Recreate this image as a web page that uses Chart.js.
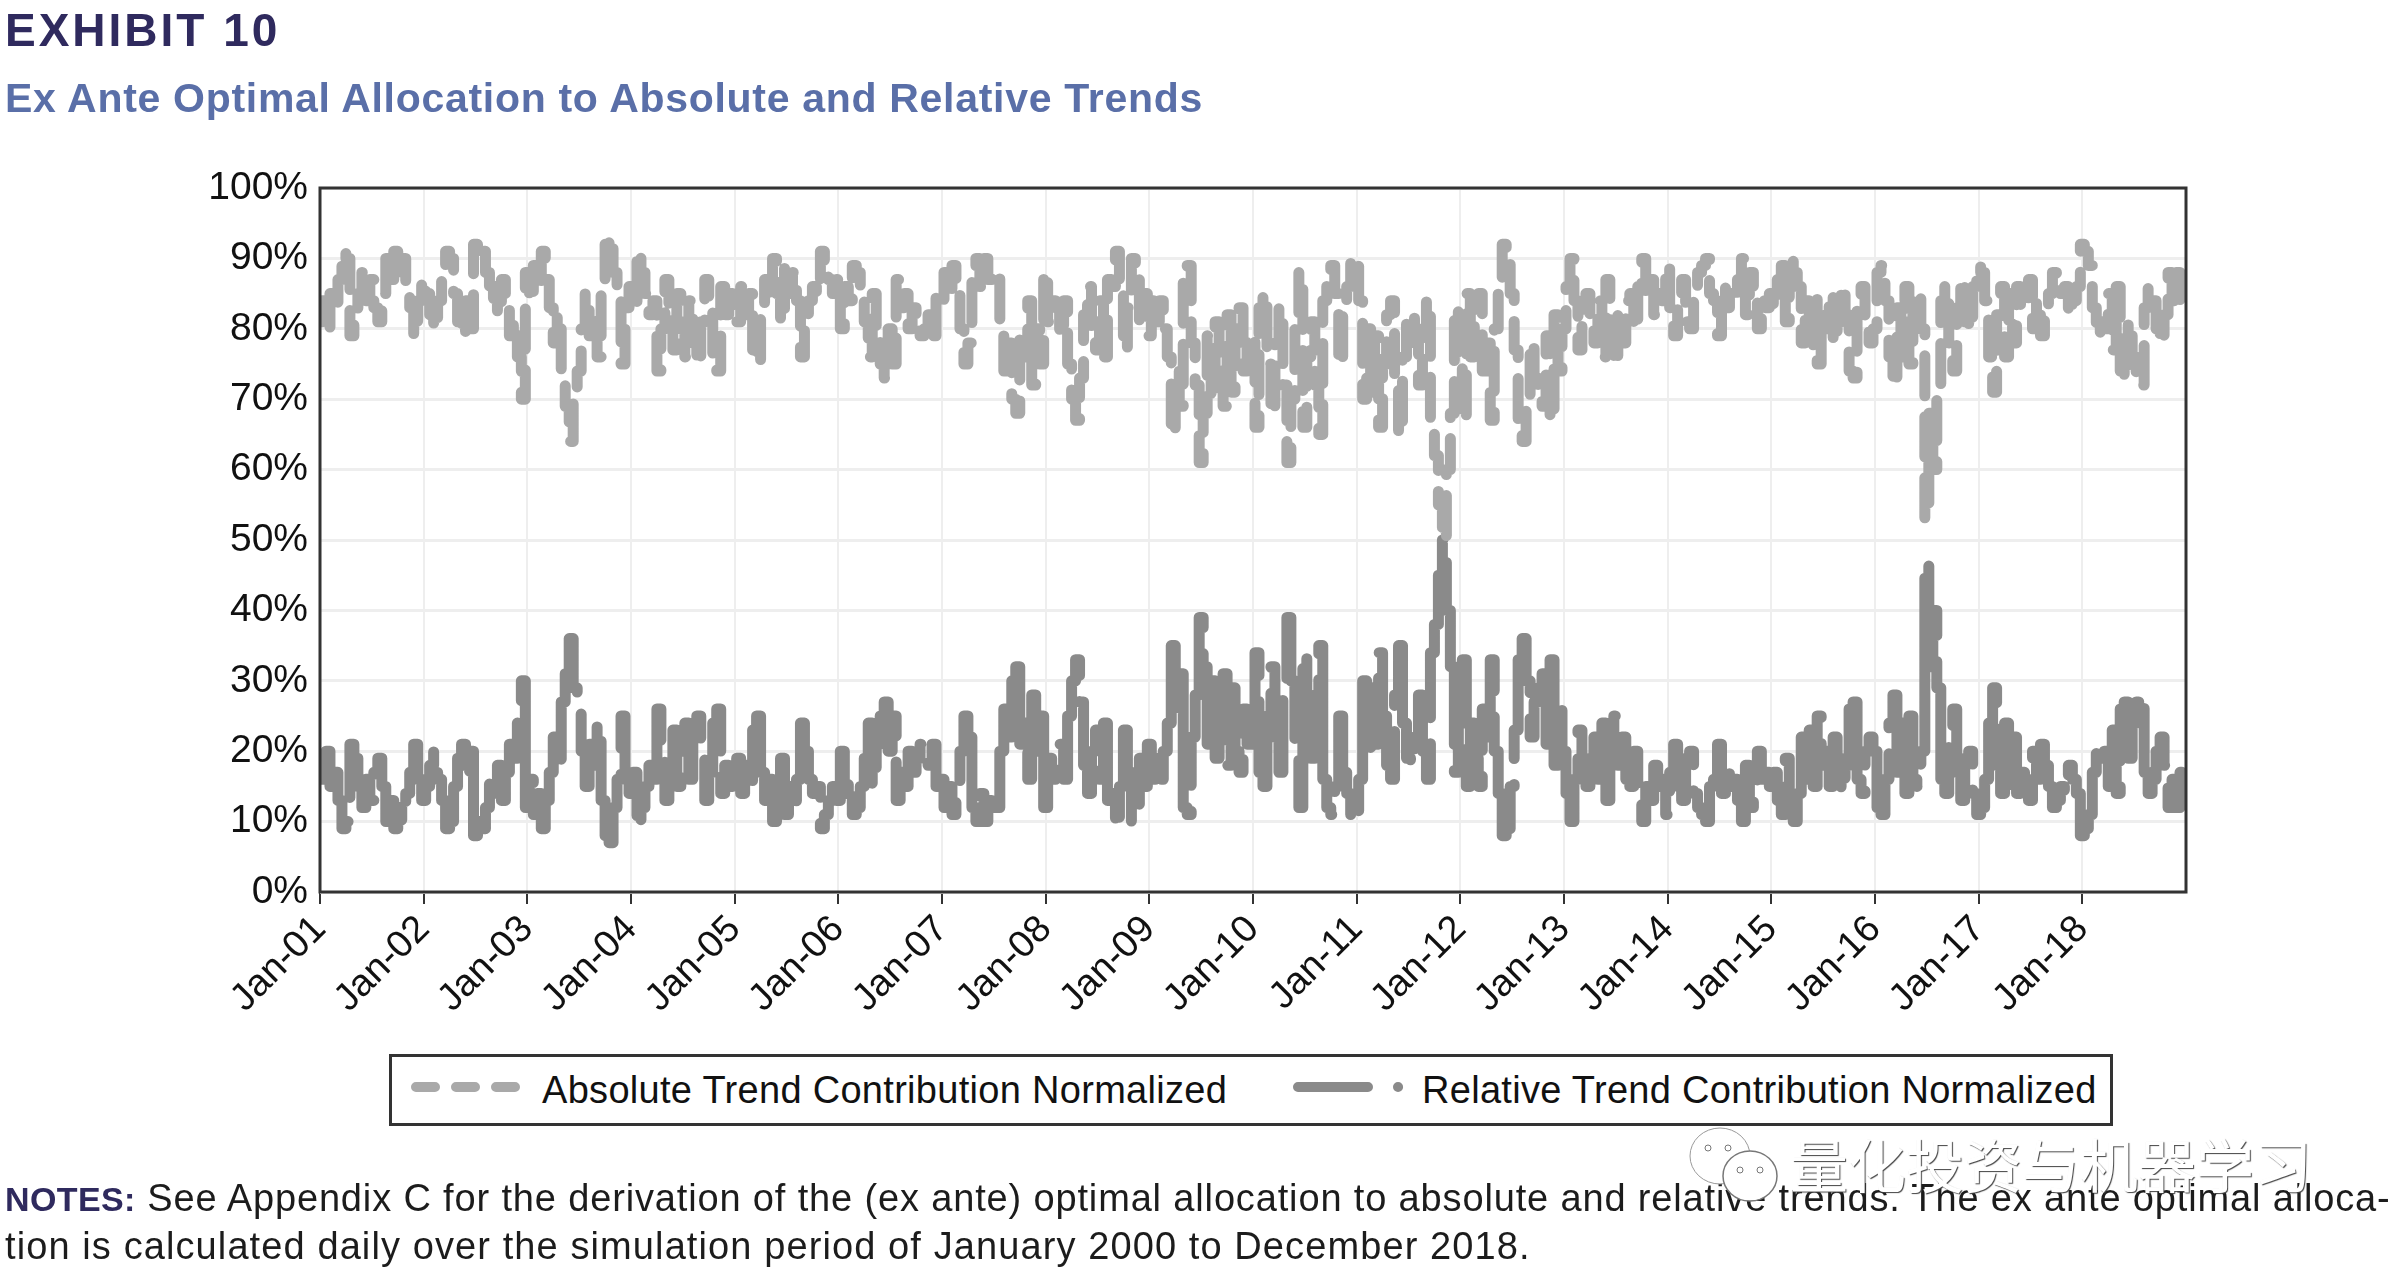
<!DOCTYPE html>
<html>
<head>
<meta charset="utf-8">
<title>Exhibit 10</title>
<script src="https://cdn.jsdelivr.net/npm/chart.js@4"></script>
<style>
  html, body { margin: 0; padding: 0; background: #fff; }
  body { position: relative; width: 2394px; height: 1268px; overflow: hidden; font-family: "Liberation Sans", sans-serif; }
  #chart { position: absolute; left: 0; top: 0; }
  .line { position: absolute; left: 5px; white-space: nowrap; }
  #exhibit { top: 0; font-size: 46px; line-height: 60px; font-weight: bold; color: #2f2a5e; letter-spacing: 3px; }
  #title { top: 68px; font-size: 41px; line-height: 60px; font-weight: bold; color: #5a6fa8; letter-spacing: 0.7px; }
  .note { font-size: 38px; line-height: 48px; color: #1c1c1c; letter-spacing: 0.85px; }
  #note1 { top: 1174px; }
  #note2 { top: 1222px; letter-spacing: 1.1px; }
  .note b { color: #2f2a5e; font-size: 34px; letter-spacing: 0.4px; }
  #legend { position: absolute; left: 389px; top: 1054px; width: 1718px; height: 66px; border: 3px solid #333; background: #fff; font-size: 38px; letter-spacing: 0.3px; color: #111; }
  #legend svg { position: absolute; top: 8px; }
  #legend span { position: absolute; top: 8px; line-height: 50px; white-space: nowrap; }
  #mark { position: absolute; left: 1790px; top: 1128px; font: 58px/70px "Noto Sans CJK SC"; color: #fff; text-shadow: 1px 1px 1px #444; white-space: nowrap; }
  #wechat { position: absolute; left: 1686px; top: 1124px; }
</style>
</head>
<body>
<canvas id="chart" width="2394" height="1268"></canvas>
<div class="line" id="exhibit">EXHIBIT 10</div>
<div class="line" id="title">Ex Ante Optimal Allocation to Absolute and Relative Trends</div>
<div id="legend"></div>
<div class="line note" id="note1"><b>NOTES:</b> See Appendix C for the derivation of the (ex ante) optimal allocation to absolute and relative trends. The ex ante optimal alloca-</div>
<div class="line note" id="note2">tion is calculated daily over the simulation period of January 2000 to December 2018.</div>
<svg id="wechat" width="100" height="84" viewBox="0 0 100 84">
  <ellipse cx="34" cy="32" rx="30" ry="28" fill="#fff" stroke="#999" stroke-width="1"/>
  <ellipse cx="64" cy="52" rx="27" ry="25" fill="#fff" stroke="#777" stroke-width="1.5"/>
  <circle cx="22" cy="24" r="3" fill="#fff" stroke="#777"/>
  <circle cx="42" cy="24" r="3" fill="#fff" stroke="#777"/>
  <circle cx="54" cy="46" r="3" fill="#fff" stroke="#777"/>
  <circle cx="74" cy="46" r="3" fill="#fff" stroke="#777"/>
</svg>
<div id="mark">量化投资与机器学习</div>

<script>
const tickLabels = ["Jan-01", "Jan-02", "Jan-03", "Jan-04", "Jan-05", "Jan-06", "Jan-07", "Jan-08", "Jan-09",
  "Jan-10", "Jan-11", "Jan-12", "Jan-13", "Jan-14", "Jan-15", "Jan-16", "Jan-17", "Jan-18"];
const pointsPerYear = 26;

const absoluteLabel = "Absolute Trend Contribution Normalized";
const relativeLabel = "Relative Trend Contribution Normalized";

const absoluteTrend = [
  81,84,80,85,83,87,91,90,79,81,85,88,84,87,83,81,85,90,87,91,88,90,86,83,79,84,
  87,85,82,80,84,87,91,90,85,81,79,84,80,92,90,91,88,84,86,82,87,83,79,81,76,70,
  88,84,89,86,91,87,83,78,82,73,69,64,71,74,80,85,79,82,76,87,92,93,88,84,75,83,
  86,83,91,88,85,82,84,74,80,87,82,77,85,80,76,84,78,75,81,87,83,76,74,86,82,85,
  83,81,86,82,85,77,75,83,87,84,90,85,81,89,85,88,84,76,80,84,86,85,91,89,87,85,
  87,80,86,84,89,88,85,81,76,85,79,75,73,80,75,87,83,85,80,83,81,79,80,82,79,85,
  84,88,85,89,86,80,75,78,88,90,86,90,87,88,88,80,74,78,70,68,79,76,84,72,80,75,
  88,81,84,83,79,84,75,70,67,73,82,86,80,77,84,76,87,86,91,85,77,83,90,89,81,85,
  79,84,81,84,80,76,65,74,69,88,89,78,72,61,68,79,70,81,74,69,82,71,80,83,74,79,
  79,66,83,85,75,68,78,83,72,61,70,80,88,66,76,81,72,65,84,88,89,85,75,83,86,90,
  90,84,70,80,71,79,66,75,82,84,72,65,76,81,82,78,72,80,84,66,62,55,50,60,68,83,
  76,67,85,76,81,85,74,78,67,80,86,92,91,85,77,67,64,70,78,73,71,69,79,67,82,74,
  80,86,90,84,77,82,85,81,78,84,76,87,80,75,82,78,84,85,80,86,90,85,87,82,85,84,
  89,83,79,85,87,81,80,86,88,89,90,85,84,79,86,83,85,84,87,90,82,88,85,80,84,83,
  85,83,87,89,81,88,90,86,78,84,77,85,75,82,80,85,78,81,86,82,74,73,84,86,80,78,
  80,88,89,84,76,72,83,76,86,75,84,85,80,53,68,60,71,84,86,78,74,83,87,81,80,86,
  89,88,84,76,71,82,86,76,85,78,86,83,84,87,80,84,79,82,85,88,87,85,86,82,84,86,
  92,91,89,83,79,81,80,85,77,86,74,73,81,76,73,72,83,86,84,80,78,82,88,84,88,83
];

const relativeTrend = [
  19,16,20,15,17,13,9,10,21,19,15,12,16,13,17,19,15,10,13,9,12,10,14,17,21,16,
  13,15,18,20,16,13,9,10,15,19,21,16,20,8,10,9,12,16,14,18,13,17,21,19,24,30,
  12,16,11,14,9,13,17,22,18,27,31,36,29,26,20,15,21,18,24,13,8,7,12,16,25,17,
  14,17,9,12,15,18,16,26,20,13,18,23,15,20,24,16,22,25,19,13,17,24,26,14,18,15,
  17,19,14,18,15,23,25,17,13,16,10,15,19,11,15,12,16,24,20,16,14,15,9,11,13,15,
  13,20,14,16,11,12,15,19,24,15,21,25,27,20,25,13,17,15,20,17,19,21,20,18,21,15,
  16,12,15,11,14,20,25,22,12,10,14,10,13,12,12,20,26,22,30,32,21,24,16,28,20,25,
  12,19,16,17,21,16,25,30,33,27,18,14,20,23,16,24,13,14,9,15,23,17,10,11,19,15,
  21,16,19,16,20,24,35,26,31,12,11,22,28,39,32,21,30,19,26,31,18,29,20,17,26,21,
  21,34,17,15,25,32,22,17,28,39,30,20,12,34,24,19,28,35,16,12,11,15,25,17,14,10,
  10,16,30,20,29,21,34,25,18,16,28,35,24,19,18,22,28,20,16,34,38,45,50,40,32,17,
  24,33,15,24,19,15,26,22,33,20,14,8,9,15,23,33,36,30,22,27,29,31,21,33,18,26,
  20,14,10,16,23,18,15,19,22,16,24,13,20,25,18,22,16,15,20,14,10,15,13,18,15,16,
  11,17,21,15,13,19,20,14,12,11,10,15,16,21,14,17,15,16,13,10,18,12,15,20,16,17,
  15,17,13,11,19,12,10,14,22,16,23,15,25,18,20,15,22,19,14,18,26,27,16,14,20,22,
  20,12,11,16,24,28,17,24,14,25,16,15,20,47,32,40,29,16,14,22,26,17,13,19,20,14,
  11,12,16,24,29,18,14,24,15,22,14,17,16,13,20,16,21,18,15,12,13,15,14,18,16,14,
  8,9,11,17,21,19,20,15,23,14,26,27,19,24,27,28,17,14,16,20,22,18,12,16,12,17
];

const absoluteColor = "#a9a9a9";
const relativeColor = "#8a8a8a";
const lineDashAbsolute = [40, 21];
const lineDashRelative = [190, 26];
const legendDashAbsolute = [19, 21];
const legendDashRelative = [70, 30, 0.1, 30];

function toPoints(values) {
  return values.map((value, index) => ({ x: index / pointsPerYear, y: value }));
}

// the frame sits on all four sides of the plot
const framePlugin = {
  id: "frame",
  afterDraw(chart) {
    const { ctx, chartArea } = chart;
    ctx.save();
    ctx.strokeStyle = "#333";
    ctx.lineWidth = 3;
    ctx.strokeRect(chartArea.left, chartArea.top, chartArea.width, chartArea.height);
    ctx.restore();
  },
};

new Chart(document.getElementById("chart").getContext("2d"), {
  type: "line",
  data: {
    datasets: [
      {
        label: absoluteLabel,
        data: toPoints(absoluteTrend),
        borderColor: absoluteColor,
        borderWidth: 11,
        borderDash: lineDashAbsolute,
        borderCapStyle: "round",
        borderJoinStyle: "round",
        pointRadius: 0,
        stepped: "middle",
      },
      {
        label: relativeLabel,
        data: toPoints(relativeTrend),
        borderColor: relativeColor,
        borderWidth: 11,
        borderDash: lineDashRelative,
        borderCapStyle: "round",
        borderJoinStyle: "round",
        pointRadius: 0,
        stepped: "middle",
      },
    ],
  },
  options: {
    responsive: false,
    animation: false,
    devicePixelRatio: 1,
    layout: { padding: { left: 20, top: 188, right: 208, bottom: 246 } },
    plugins: { legend: { display: false }, tooltip: { enabled: false } },
    scales: {
      x: {
        type: "linear",
        min: 0,
        max: 18,
        afterFit(scale) { scale.height = 130; },
        border: { display: false },
        grid: { color: "#eeeeee", lineWidth: 2, tickColor: "#333", tickLength: 12 },
        ticks: {
          stepSize: 1,
          autoSkip: false,
          minRotation: 45,
          maxRotation: 45,
          color: "#111",
          font: { family: "Liberation Sans", size: 38 },
          callback: (value) => tickLabels[value],
        },
      },
      y: {
        min: 0,
        max: 100,
        afterFit(scale) { scale.width = 300; },
        border: { display: false },
        grid: { color: "#eeeeee", lineWidth: 3, drawTicks: false },
        ticks: {
          stepSize: 10,
          padding: 12,
          color: "#111",
          font: { family: "Liberation Sans", size: 39 },
          callback: (value) => `${value}%`,
        },
      },
    },
  },
  plugins: [framePlugin],
});

function dashLine(dash, color, x, width) {
  return `<svg style="left:${x}px" width="${width}" height="50">
    <line x1="6" y1="22" x2="${width - 6}" y2="22" stroke="${color}" stroke-width="10"
      stroke-linecap="round" stroke-dasharray="${dash.join(" ")}"/>
  </svg>`;
}

document.getElementById("legend").innerHTML = `
  ${dashLine(legendDashAbsolute, absoluteColor, 18, 112)}
  <span style="left:150px">${absoluteLabel}</span>
  ${dashLine(legendDashRelative, relativeColor, 900, 124)}
  <span style="left:1030px">${relativeLabel}</span>
`;
</script>
</body>
</html>
